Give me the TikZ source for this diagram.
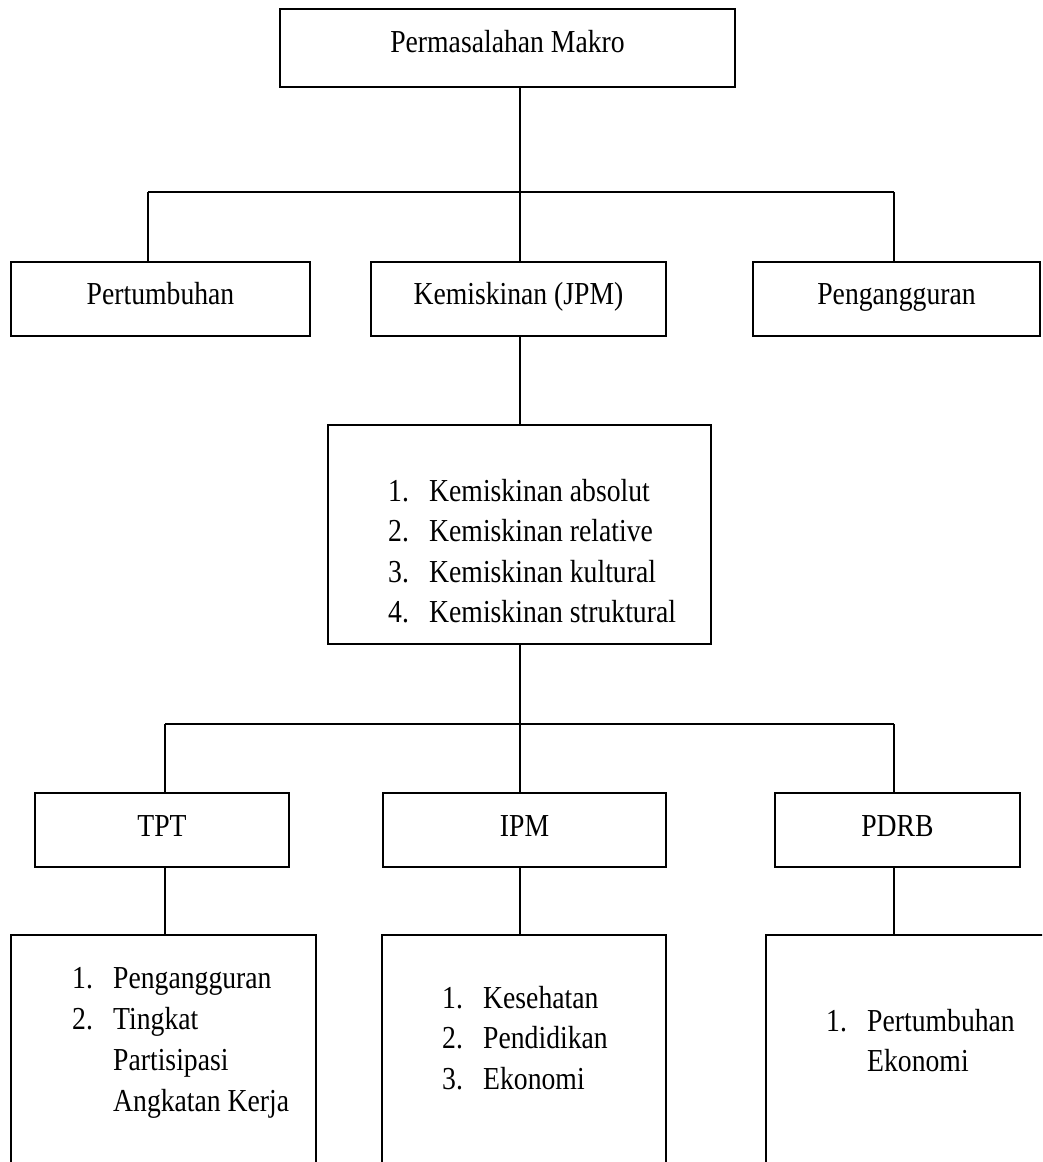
\documentclass[tikz,border=0pt]{standalone}
\usepackage{fontspec}
\setmainfont{Liberation Serif}[FakeStretch=0.865]
\newcommand{\lstitem}[2]{\makebox[41pt][l]{#1.}#2}
\newcommand{\lstcont}[1]{\hspace*{41pt}#1}
\begin{document}
\begin{tikzpicture}[x=1pt,y=-1pt,
  box/.style={draw, line width=1.4pt, inner sep=0pt, rectangle},
  link/.style={line width=1.4pt},
  big/.style={font=\fontsize{32}{40.5}\selectfont},
  txt/.style={inner sep=0pt, anchor=base west, big}]
\clip (0,0) rectangle (1042,1162);
\fill[white] (0,0) rectangle (1042,1162);

% level 1
\node[box, big, minimum width=455pt, text height=43pt, text depth=35pt] (top) at (507.5,48) {Permasalahan Makro};

% level 2
\node[box, big, minimum width=299pt, text height=42pt, text depth=32pt] (pert) at (160.5,299) {Pertumbuhan};
\node[box, big, minimum width=295pt, text height=42pt, text depth=32pt] (kem) at (518.5,299) {Kemiskinan (JPM)};
\node[box, big, minimum width=287pt, text height=42pt, text depth=32pt] (peng) at (896.5,299) {Pengangguran};

% level 3 (list)
\node[box, minimum width=383pt, minimum height=219pt] (list) at (519.5,534.5) {};
\node[txt] (listtxt) at (388,501) {\begin{tabular}[t]{@{}l@{}}
\lstitem{1}{Kemiskinan absolut}\\
\lstitem{2}{Kemiskinan relative}\\
\lstitem{3}{Kemiskinan kultural}\\
\lstitem{4}{Kemiskinan struktural}
\end{tabular}};

% level 4
\node[box, big, minimum width=254pt, text height=43pt, text depth=31pt] (tpt) at (162,830) {TPT};
\node[box, big, minimum width=283pt, text height=43pt, text depth=31pt] (ipm) at (524.5,830) {IPM};
\node[box, big, minimum width=245pt, text height=43pt, text depth=31pt] (pdrb) at (897.5,830) {PDRB};

% level 5
\node[box, minimum width=305pt, minimum height=265pt] (bl) at (163.5,1067.5) {};
\node[box, minimum width=284pt, minimum height=265pt] (bm) at (524,1067.5) {};
\node[box, minimum width=304pt, minimum height=265pt] (br) at (918,1067.5) {};

\node[txt, font=\fontsize{32}{41.3}\selectfont] (bltxt) at (72,988) {\begin{tabular}[t]{@{}l@{}}
\lstitem{1}{Pengangguran}\\
\lstitem{2}{Tingkat}\\
\lstcont{Partisipasi}\\
\lstcont{Angkatan Kerja}
\end{tabular}};
\node[txt] (bmtxt) at (442,1008) {\begin{tabular}[t]{@{}l@{}}
\lstitem{1}{Kesehatan}\\
\lstitem{2}{Pendidikan}\\
\lstitem{3}{Ekonomi}
\end{tabular}};
\node[txt] (brtxt) at (826,1031) {\begin{tabular}[t]{@{}l@{}}
\lstitem{1}{Pertumbuhan}\\
\lstcont{Ekonomi}
\end{tabular}};

% junctions
\coordinate (b1) at (520,192);
\coordinate (b1l) at (148,192);
\coordinate (b1r) at (894,192);
\coordinate (b2) at (520,724);
\coordinate (b2l) at (165,724);
\coordinate (b2r) at (894,724);

% connectors
\draw[link] (top.south -| b1) -- (b1);
\draw[link] (b1l) -- (b1r);
\draw[link] (b1l) -- (b1l |- pert.north);
\draw[link] (b1) -- (b1 |- kem.north);
\draw[link] (b1r) -- (b1r |- peng.north);
\draw[link] (kem.south -| b1) -- (list.north -| b1);
\draw[link] (list.south -| b2) -- (b2);
\draw[link] (b2l) -- (b2r);
\draw[link] (b2l) -- (b2l |- tpt.north);
\draw[link] (b2) -- (b2 |- ipm.north);
\draw[link] (b2r) -- (b2r |- pdrb.north);
\draw[link] (tpt.south -| b2l) -- (bl.north -| b2l);
\draw[link] (ipm.south -| b2) -- (bm.north -| b2);
\draw[link] (pdrb.south -| b2r) -- (br.north -| b2r);
\end{tikzpicture}
\end{document}
